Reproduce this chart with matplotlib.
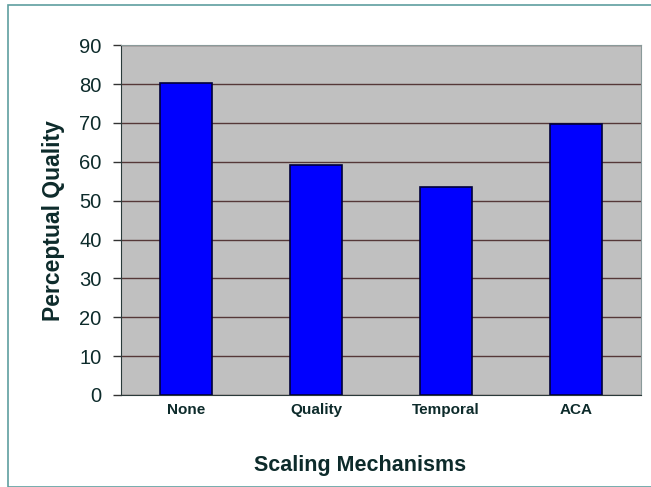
import matplotlib.pyplot as plt
from matplotlib.patches import Rectangle

categories = ["None", "Quality", "Temporal", "ACA"]
quality = [80.3, 59.2, 53.5, 69.7]
yticks = [0, 10, 20, 30, 40, 50, 60, 70, 80, 90]

plt.rcParams['font.family'] = ['Liberation Sans', 'DejaVu Sans']
txt = '#0d2b2b'

fig = plt.figure(figsize=(6.51, 4.87), dpi=100)
ax = fig.add_axes([0.186, 0.189, 0.799, 0.718])
ax.set_facecolor('#c0c0c0')

x = range(len(categories))
ax.bar(x, quality, width=0.4, color='#0000ff', edgecolor='#00003a', linewidth=1.2, zorder=3)

ax.set_xlim(-0.5, len(categories) - 0.5)
ax.set_ylim(0, 90)
ax.set_yticks(yticks)
ax.set_yticklabels([str(t) for t in yticks], fontsize=14.5, color=txt)
ax.yaxis.grid(True, color='#553838', linewidth=1.0, zorder=1)
ax.set_axisbelow(True)

ax.set_xticks(list(x))
ax.set_xticklabels(categories, fontsize=11, fontweight='bold', color=txt)
ax.tick_params(axis='x', length=0, pad=6)
ax.tick_params(axis='y', length=6, width=1, color='#333333', pad=8)

for s in ['top', 'right']:
    ax.spines[s].set_color('#8a9a9a')
ax.spines['left'].set_color('#2a3a3a')
ax.spines['bottom'].set_color('#2a3a3a')

ax.set_ylabel("Perceptual Quality", fontsize=16.5, fontweight='bold', color=txt, labelpad=10)
fig.text(0.553, 0.045, "Scaling Mechanisms", fontsize=15.5, fontweight='bold',
         color=txt, ha='center', va='center')

fig.patches.append(Rectangle((0.012, 0.0), 0.99, 0.99, transform=fig.transFigure,
                             fill=False, edgecolor='#5f9ea0', linewidth=1.2))

fig.savefig("out.png", dpi=100)
